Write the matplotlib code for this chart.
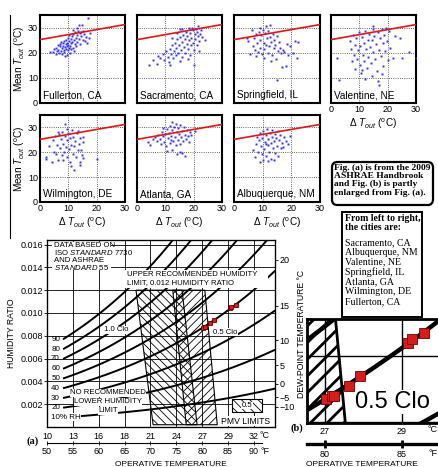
import numpy as np
import matplotlib.pyplot as plt
from matplotlib.patches import Polygon, Rectangle, FancyBboxPatch
from matplotlib.lines import Line2D

plt.rcParams['font.family'] = 'Liberation Sans'
plt.rcParams['mathtext.fontset'] = 'custom'
plt.rcParams['mathtext.rm'] = 'Liberation Sans'
plt.rcParams['mathtext.it'] = 'Liberation Sans:italic'
plt.rcParams['hatch.linewidth'] = 0.6

# scatter data (delta T_out, mean T_out) in degC
fullerton = [(3.5, 20.4), (4.5, 20.1), (5.0, 21.3), (5.5, 19.6), (5.8, 22.0), (6.0, 20.5), (6.2, 23.1),
             (6.5, 21.0), (6.8, 19.8), (7.0, 22.5), (7.2, 23.6), (7.4, 20.8), (7.5, 24.1), (7.7, 21.9),
             (7.9, 19.5), (8.0, 22.8), (8.2, 23.9), (8.3, 21.2), (8.5, 24.6), (8.6, 20.3), (8.8, 18.7),
             (8.9, 22.2), (9.0, 23.4), (9.1, 25.1), (9.3, 21.6), (9.4, 19.2), (9.5, 24.0), (9.6, 22.7),
             (9.8, 26.0), (9.9, 20.9), (10.0, 23.2), (10.1, 24.8), (10.3, 21.8), (10.4, 27.0), (10.5, 22.5),
             (10.6, 19.9), (10.8, 25.5), (11.0, 23.8), (11.1, 21.3), (11.3, 26.6), (11.4, 24.4), (11.6, 22.0),
             (11.8, 27.6), (12.0, 25.0), (12.1, 20.6), (12.3, 23.5), (12.5, 28.2), (12.6, 26.0), (12.8, 22.8),
             (13.0, 27.1), (13.2, 24.2), (13.4, 28.6), (13.6, 25.6), (13.8, 31.0), (14.0, 27.8), (14.2, 23.6),
             (14.4, 26.8), (14.6, 28.4), (14.7, 31.0), (15.0, 25.2), (15.3, 28.7), (15.5, 27.3), (15.8, 24.6),
             (16.2, 26.2), (16.7, 24.0), (17.0, 33.7), (17.4, 26.0), (17.6, 28.0), (12.9, 29.8), (11.5, 29.0)]
sacramento = [(4.1, 15.0), (5.5, 17.2), (7.0, 15.5), (7.5, 18.6), (8.2, 18.0), (9.0, 19.5), (9.6, 17.1),
              (10.2, 20.8), (10.8, 18.4), (11.2, 16.2), (11.8, 15.3), (11.5, 21.6), (12.0, 19.3), (12.4, 22.9),
              (12.8, 17.8), (13.0, 20.5), (13.3, 24.0), (13.6, 18.9), (13.9, 21.8), (14.2, 25.3), (14.5, 19.8),
              (14.8, 23.1), (15.0, 16.9), (15.2, 26.4), (15.3, 29.6), (15.5, 21.0), (15.8, 24.3), (16.0, 18.2),
              (16.2, 27.2), (16.5, 22.4), (16.8, 25.6), (17.0, 20.0), (17.2, 28.4), (17.5, 23.5), (17.7, 26.8),
              (18.0, 21.5), (18.2, 29.8), (18.4, 24.9), (18.6, 19.1), (18.8, 27.8), (19.0, 22.9), (19.2, 26.0),
              (19.4, 30.0), (19.6, 28.9), (19.8, 24.0), (20.0, 15.2), (20.1, 21.0), (20.3, 27.3), (20.5, 25.4),
              (20.7, 29.3), (21.0, 23.0), (21.2, 28.1), (21.4, 26.5), (21.6, 30.5), (22.0, 24.6), (22.3, 27.6),
              (22.5, 29.0), (23.0, 26.2), (24.0, 25.0), (17.9, 17.4), (16.0, 29.5), (14.0, 28.0), (12.5, 26.0),
              (21.8, 20.6)]
springfield = [(4.4, 26.0), (5.0, 24.5), (5.6, 19.3), (6.2, 29.0), (6.5, 22.8), (7.0, 25.9), (7.3, 21.0),
               (7.6, 27.6), (8.0, 23.9), (8.3, 20.2), (8.6, 28.4), (8.9, 25.1), (9.2, 22.0), (9.5, 26.9),
               (9.8, 19.6), (10.0, 29.2), (10.3, 24.0), (10.6, 21.4), (10.9, 27.8), (11.2, 23.0), (11.5, 25.8),
               (11.8, 20.0), (12.0, 28.8), (12.3, 22.5), (12.6, 31.0), (12.6, 26.2), (12.9, 24.4), (13.2, 19.0),
               (13.5, 27.3), (13.8, 21.8), (14.1, 25.0), (14.4, 23.2), (14.6, 17.5), (14.9, 9.3), (15.0, 26.5),
               (15.3, 20.6), (15.6, 24.1), (16.0, 22.0), (16.3, 19.8), (16.6, 14.4), (17.0, 21.0), (17.5, 20.1),
               (18.0, 14.7), (18.4, 23.4), (19.0, 19.2), (19.5, 22.5), (20.5, 20.0), (21.3, 24.7), (21.9, 18.0),
               (22.3, 24.3), (9.0, 30.0), (11.0, 30.5), (7.8, 18.5), (13.0, 16.8), (10.5, 17.9)]
valentine = [(2.0, 18.0), (3.0, 9.3), (6.8, 24.5), (7.2, 21.3), (7.5, 16.8), (7.8, 27.0), (8.1, 19.2),
             (8.4, 13.6), (8.6, 23.0), (9.0, 25.8), (9.2, 17.4), (9.5, 20.9), (9.8, 28.2), (10.1, 15.2),
             (10.3, 22.7), (10.6, 11.8), (10.9, 26.3), (11.2, 19.0), (11.5, 24.0), (11.8, 16.6), (12.1, 28.7),
             (12.4, 21.4), (12.7, 13.9), (13.0, 25.2), (13.2, 18.4), (13.5, 27.6), (13.8, 22.3), (14.0, 15.8),
             (14.3, 24.9), (14.5, 10.7), (14.7, 29.6), (15.0, 20.1), (15.0, 30.7), (15.3, 26.5), (15.6, 17.4),
             (15.9, 23.3), (16.2, 12.8), (16.5, 28.3), (16.9, 7.3), (16.6, 8.6), (17.0, 21.2), (17.3, 25.7),
             (17.6, 18.5), (17.9, 29.3), (18.2, 23.8), (18.5, 14.6), (18.8, 27.2), (19.2, 20.6), (19.5, 30.0),
             (19.8, 24.6), (20.2, 17.0), (20.6, 28.6), (21.0, 22.0), (22.0, 18.0), (22.5, 26.8), (24.3, 26.0),
             (25.2, 18.0), (27.4, 20.3), (30.0, 18.0), (12.0, 9.5), (11.0, 13.0), (18.0, 11.5)]
wilmington = [(2.0, 18.0), (2.2, 17.2), (3.0, 22.5), (4.1, 16.0), (4.7, 24.8), (5.0, 20.0), (5.3, 26.4),
              (5.6, 19.2), (6.0, 23.0), (6.5, 16.7), (6.8, 27.3), (7.0, 21.6), (7.3, 25.2), (7.6, 18.8),
              (7.9, 28.0), (8.2, 23.4), (8.5, 20.1), (8.8, 31.3), (8.8, 26.6), (9.1, 22.0), (9.4, 24.8),
              (9.7, 18.3), (10.0, 27.9), (10.3, 21.2), (10.6, 16.0), (10.6, 25.6), (10.9, 23.0), (11.2, 29.0),
              (11.5, 19.4), (11.8, 26.2), (12.0, 12.7), (12.1, 22.4), (12.4, 24.6), (12.7, 18.0), (13.0, 27.6),
              (13.3, 20.8), (13.5, 28.7), (13.7, 23.4), (14.0, 16.0), (14.0, 15.0), (14.2, 25.8), (14.5, 21.0),
              (14.8, 19.0), (15.0, 24.2), (15.2, 17.5), (15.3, 26.0), (20.0, 17.3), (6.2, 28.0), (9.6, 29.5),
              (11.0, 14.4), (8.0, 17.0)]
atlanta = [(4.0, 24.0), (4.5, 23.0), (5.5, 25.3), (6.5, 26.2), (7.0, 24.6), (7.5, 27.0), (8.2, 25.5),
           (8.5, 23.3), (8.8, 28.0), (9.2, 26.4), (9.5, 24.2), (9.9, 27.4), (10.2, 22.6), (10.6, 20.7),
           (10.5, 29.2), (10.8, 25.8), (11.2, 27.9), (11.5, 23.8), (11.8, 30.5), (12.0, 26.6), (12.2, 21.0),
           (12.4, 32.0), (12.5, 28.8), (12.8, 24.7), (13.1, 30.0), (13.3, 26.2), (13.6, 22.8), (13.8, 31.4),
           (14.0, 28.0), (14.3, 25.0), (14.5, 29.8), (14.8, 27.2), (15.0, 23.4), (15.3, 20.0), (15.3, 30.8),
           (15.6, 26.0), (15.9, 28.5), (16.2, 24.4), (16.5, 30.2), (16.8, 27.0), (17.0, 18.7), (17.2, 25.4),
           (17.5, 29.0), (18.0, 26.6), (18.4, 24.0), (18.8, 28.2), (19.2, 27.0), (20.6, 28.4), (9.0, 29.8),
           (12.0, 25.0), (14.0, 19.5), (16.0, 19.8)]
albuquerque = [(6.7, 21.0), (7.3, 18.0), (7.6, 23.5), (8.0, 26.0), (8.3, 20.2), (8.6, 24.8), (9.0, 16.0),
               (9.0, 27.6), (9.3, 22.4), (9.6, 19.2), (9.9, 25.6), (10.2, 28.4), (10.4, 21.4), (10.7, 24.0),
               (11.0, 18.6), (11.2, 26.8), (11.5, 29.3), (11.7, 22.8), (12.0, 25.2), (12.3, 20.0), (12.5, 27.9),
               (12.8, 23.6), (13.0, 17.2), (13.1, 26.3), (13.4, 29.0), (13.6, 21.8), (13.9, 24.6), (14.2, 27.2),
               (14.4, 19.6), (14.7, 25.8), (15.0, 22.6), (15.2, 28.6), (15.5, 18.4), (15.8, 24.9), (16.0, 27.0),
               (16.3, 21.6), (16.8, 23.9), (17.2, 22.0), (17.6, 26.2), (18.2, 24.6), (19.0, 23.3), (19.5, 26.7),
               (10.0, 17.0), (12.0, 16.6), (14.0, 16.9), (11.0, 23.5)]

line_dt = [0, 30]
line_t = [25.2, 31.2]
dt_ticks = [0, 10, 20, 30]
t_ticks = [0, 10, 20, 30]

# psychrometric chart (temperatures in degF, humidity ratio in kg/kg)
tick_f = [50, 55, 60, 65, 70, 75, 80, 85, 90]
tick_c_labels = ['10', '13', '16', '18', '21', '24', '27', '29', '32']
w_ticks = [0.002, 0.004, 0.006, 0.008, 0.010, 0.012, 0.014, 0.016]
w_labels = ['0.002', '0.004', '0.006', '0.008', '0.010', '0.012', '0.014', '0.016']
rh_levels = [90, 80, 70, 60, 50, 40, 30, 20, 10]
rh_labels = ['90', '80', '70', '60', '50', '40', '30', '20', '10% RH']
dew_ticks = [-10, -5, 0, 5, 10, 15, 20]
dew_labels = ['\u221210', '\u22125', '0', '5', '10', '15', '20']
clo10_f = [67.2, 76.1, 79.0, 70.5]
clo10_w = [0.012, 0.012, 0.0002, 0.0002]
clo05_f = [74.3, 80.5, 82.9, 76.9]
clo05_w = [0.012, 0.012, 0.0002, 0.0002]
city_f = [80.06, 80.45, 80.58, 81.56, 82.27, 85.39, 85.65, 86.43]
city_w = [0.0087, 0.0088, 0.0088, 0.0091, 0.0094, 0.0104, 0.0105, 0.0107]
zoom_tick_f = [80, 85]
zoom_tick_c_labels = ['27', '29']
cities_listed = ['Sacramento, CA', 'Albuquerque, NM', 'Valentine, NE', 'Springfield, IL',
                 'Atlanta, GA', 'Wilmington, DE', 'Fullerton, CA']

W, H = 439, 467
fig = plt.figure(figsize=(W / 100, H / 100), dpi=100)


def px_axes(x0, y0, x1, y1):
    return fig.add_axes([x0 / W, 1 - y1 / H, (x1 - x0) / W, (y1 - y0) / H])


def ftext(x, y, s, **kw):
    return fig.text(x / W, 1 - y / H, s, **kw)


def hum_ratio(t_f, rh):
    t_c = (np.asarray(t_f, dtype=float) - 32) / 1.8
    pws = 0.61094 * np.exp(17.625 * t_c / (t_c + 243.04))
    pw = rh / 100 * pws
    return 0.622 * pw / (101.325 - pw)


# ---------------- scatter panels ----------------
cols = [(40, 125), (137, 222), (234, 320), (331, 416)]
rows = [(15, 103), (115, 202)]
panels = [(fullerton, 'Fullerton, CA', 0, 0), (sacramento, 'Sacramento, CA', 0, 1),
          (springfield, 'Springfield, IL', 0, 2), (valentine, 'Valentine, NE', 0, 3),
          (wilmington, 'Wilmington, DE', 1, 0), (atlanta, 'Atlanta, GA', 1, 1),
          (albuquerque, 'Albuquerque, NM', 1, 2)]

for pts, name, r, c in panels:
    ax = px_axes(cols[c][0], rows[r][0], cols[c][1], rows[r][1])
    xs, ys = zip(*pts)
    ax.plot(xs, ys, 's', ms=1.4, mew=0, color='#2f2fff', zorder=3)
    ax.plot(line_dt, line_t, color='#e01515', lw=1.2, zorder=4)
    ax.set_xlim(0, 30)
    ax.set_ylim(0, 35)
    ax.set_xticks(dt_ticks)
    ax.set_yticks(t_ticks)
    ax.grid(True, ls=':', color='#333333', lw=0.6)
    for s in ax.spines.values():
        s.set_linewidth(1.5)
    ax.tick_params(length=0, labelsize=6.5, pad=1.5)
    ax.text(0.03, 0.03, name, transform=ax.transAxes, fontsize=7.2, ha='left', va='bottom')
    if c == 0:
        ax.set_ylabel(r'Mean $T_{out}$ ($^{\rm o}$C)', fontsize=7.2, labelpad=1)
    else:
        ax.set_yticklabels([])
    if r == 1 or c == 3:
        ax.set_xlabel(r'$\Delta$ $T_{out}$ ($^{\rm o}$C)', fontsize=7.2, labelpad=2)
    else:
        ax.set_xticklabels([])

fig.add_artist(Line2D([10 / W, 10 / W], [1 - 15 / H, 1 - 238 / H], color='k', lw=0.8))

# ---------------- psychrometric chart, shared drawing ----------------
t_curve = np.linspace(53.1, 94.1, 200)


def draw_psych(ax, curve_lw, grid_lw, edge_lw, hatch10, hatch05, hatch_lw, ms):
    for f in tick_f[1:]:
        ax.axvline(f, color='k', lw=grid_lw, zorder=1)
    for w in w_ticks:
        ax.axhline(w, color='k', lw=grid_lw, zorder=1)
    for rh in rh_levels:
        ax.plot(t_curve, hum_ratio(t_curve, rh), color='k', lw=curve_lw, zorder=2,
                solid_capstyle='butt')
    plt.rcParams['hatch.linewidth'] = hatch_lw
    for fs, ws, hatch in [(clo10_f, clo10_w, hatch10), (clo05_f, clo05_w, hatch05)]:
        if hatch is None:
            continue
        p = Polygon(list(zip(fs, ws)), closed=True, fill=False, hatch=hatch,
                    edgecolor='k', lw=edge_lw, zorder=3)
        try:
            p.set_hatch_linewidth(hatch_lw)
        except AttributeError:
            pass
        ax.add_patch(p)
    ax.plot(city_f, city_w, 's', ms=ms, color='#d41e1e', mec='#6a0000', mew=0.6, zorder=5)


# ---------------- (a) ----------------
axa = px_axes(47, 240, 275, 427)
axa.set_xlim(50, 94.06)
axa.set_ylim(0, 0.0164)
draw_psych(axa, 1.4, 0.6, 0.8, '\\\\\\\\', '////', 0.6, 3.0)
for s in axa.spines.values():
    s.set_linewidth(0.9)

axa.set_yticks(w_ticks, labels=w_labels)
axa.tick_params(axis='y', length=2, width=0.6, labelsize=6.5, pad=1)
axa.set_xticks(tick_f, labels=tick_c_labels)
axa.tick_params(axis='x', length=0, labelsize=6.5, pad=3.5)
axa.set_ylabel('HUMIDITY RATIO', fontsize=6.2, labelpad=3)

secx = axa.secondary_xaxis(-0.086)
secx.set_xticks(tick_f, labels=[str(f) for f in tick_f])
secx.tick_params(direction='inout', length=3, width=0.6, labelsize=6.5, pad=1)
secx.spines['bottom'].set_linewidth(0.8)
secx.spines['bottom'].set_bounds(50, 91.5)

axr = axa.twinx()
axr.set_ylim(axa.get_ylim())
axr.set_yticks([hum_ratio(d * 1.8 + 32, 100) for d in dew_ticks], labels=dew_labels)
axr.tick_params(axis='y', length=2, width=0.6, labelsize=6.5, pad=1)
axr.set_ylabel('DEW-POINT TEMPERATURE \u00b0C', fontsize=6.2, labelpad=2)

white = dict(facecolor='white', edgecolor='none', pad=0.3)
ann = dict(fontsize=5.6, transform=axa.transAxes, zorder=7)
axa.add_patch(Rectangle((0.022, 0.838), 0.258, 0.15, transform=axa.transAxes,
                        facecolor='white', edgecolor='none', zorder=6))
for y, s in [(0.973, 'DATA BASED ON'), (0.931, r'ISO $\it{STANDARD}$ 7730'),
             (0.890, 'AND ASHRAE'), (0.852, r'$\it{STANDARD}$ 55')]:
    axa.text(0.031, y, s, ha='left', va='center', **ann)

axa.add_patch(Rectangle((0.342, 0.743), 0.627, 0.097, transform=axa.transAxes,
                        facecolor='white', edgecolor='none', zorder=6))
axa.text(0.351, 0.818, 'UPPER RECOMMENDED HUMIDITY', ha='left', va='center', **ann)
axa.text(0.351, 0.770, 'LIMIT, 0.012 HUMIDITY RATIO', ha='left', va='center', **ann)

for y, s in [(0.182, 'NO RECOMMENDED'), (0.134, 'LOWER HUMIDITY'), (0.086, 'LIMIT')]:
    axa.text(0.268, y, s, ha='center', va='center', bbox=white, **ann)

axa.text(0.303, 0.519, '1.0 Clo', ha='center', va='center', bbox=white, **ann)
axa.text(0.728, 0.508, '0.5 Clo', ha='left', va='center', bbox=white, **ann)

for rh, lab in zip(rh_levels, rh_labels):
    axa.text(50.8, float(hum_ratio(53.1, rh)), lab, fontsize=5.8, ha='left', va='center',
             bbox=dict(facecolor='white', edgecolor='none', pad=0.3) if rh == 10 else None, zorder=7)

plt.rcParams['hatch.linewidth'] = 0.6
leg = Rectangle((0.811, 0.080), 0.132, 0.070, transform=axa.transAxes, facecolor='white',
                edgecolor='k', lw=0.8, hatch='\\\\\\\\', zorder=6)
axa.add_patch(leg)
axa.text(0.877, 0.115, '0.5', ha='center', va='center', bbox=dict(facecolor='white', edgecolor='none', pad=0.2),
         **ann)
axa.text(0.873, 0.032, 'PMV LIMITS', ha='center', va='center', bbox=dict(facecolor='white', edgecolor='none', pad=0.5),
         fontsize=6.2, transform=axa.transAxes, zorder=7)

ftext(265, 435, '\u00b0C', fontsize=6.5, ha='center', va='center')
ftext(265, 452, '\u00b0F', fontsize=6.5, ha='center', va='center')
ftext(171, 464, 'OPERATIVE TEMPERATURE', fontsize=6.0, ha='center', va='center')
ftext(33, 441, '(a)', fontsize=7.5, ha='center', va='center', family='Liberation Serif', weight='bold')

# ---------------- (b) enlarged part ----------------
axb = px_axes(307, 319, 449, 423)
axb.set_xlim(78.83, 88.05)
axb.set_ylim(0.00797, 0.01112)
draw_psych(axb, 3.2, 1.0, 2.0, None, '//', 2.0, 7.5)
for s in axb.spines.values():
    s.set_linewidth(2.0)
axb.set_yticks([])
axb.set_xticks(zoom_tick_f, labels=zoom_tick_c_labels)
axb.tick_params(axis='x', length=0, labelsize=6.5, pad=3)
axb.text(0.34, 0.20, '0.5 Clo', transform=axb.transAxes, fontsize=17, ha='left', va='center',
         bbox=dict(facecolor='white', edgecolor='none', pad=0.5), zorder=7)
secb = axb.secondary_xaxis(-0.202)
secb.set_xticks(zoom_tick_f, labels=[str(f) for f in zoom_tick_f])
secb.tick_params(direction='inout', length=6, width=2, labelsize=6.5, pad=1)
secb.spines['bottom'].set_linewidth(2.4)

ftext(433, 430, '\u00b0C', fontsize=6.5, ha='center', va='center')
ftext(433, 453, '\u00b0F', fontsize=6.5, ha='center', va='center')
ftext(362, 464, 'OPERATIVE TEMPERATURE', fontsize=6.0, ha='center', va='center')
ftext(297, 428, '(b)', fontsize=7.5, ha='center', va='center', family='Liberation Serif', weight='bold')

# ---------------- text boxes ----------------
fig.add_artist(FancyBboxPatch((332 / W, 1 - 205 / H), 101 / W, 43 / H,
                              boxstyle='round,pad=0,rounding_size=0.012',
                              transform=fig.transFigure, facecolor='white', edgecolor='k', lw=1.6))
ftext(334, 163.5, 'Fig. (a) is from the 2009\nASHRAE Handbrook\nand Fig. (b) is partly\nenlarged from Fig. (a).',
      fontsize=6.8, weight='bold', family='Liberation Serif', ha='left', va='top', linespacing=1.07)

fig.add_artist(Rectangle((342 / W, 1 - 317 / H), 80 / W, 105 / H, transform=fig.transFigure,
                         facecolor='white', edgecolor='k', lw=1.4))
ftext(345, 214, 'From left to right,\nthe cities are:', fontsize=7.0, weight='bold',
      family='Liberation Serif', ha='left', va='top', linespacing=1.05)
ftext(345, 238, '\n'.join(cities_listed), fontsize=7.1, family='Liberation Serif',
      ha='left', va='top', linespacing=1.1)

fig.savefig('out.png', dpi=100)
